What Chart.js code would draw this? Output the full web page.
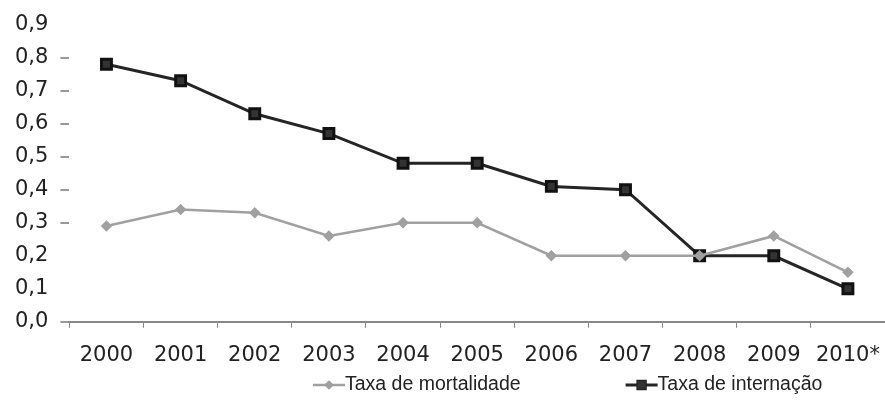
<!DOCTYPE html>
<html>
<head>
<meta charset="utf-8">
<script src="https://cdn.jsdelivr.net/npm/chart.js@4/dist/chart.umd.min.js"></script>
<style>
  html, body { margin: 0; padding: 0; background: #fff; }
  #wrap { width: 885px; height: 401px; position: relative; }
</style>
</head>
<body>
<div id="wrap"><canvas id="chart"></canvas></div>
<script>
var years = ["2000", "2001", "2002", "2003", "2004", "2005", "2006", "2007", "2008", "2009", "2010*"];
var mortalidade = [0.29, 0.34, 0.33, 0.26, 0.30, 0.30, 0.20, 0.20, 0.20, 0.26, 0.15];
var internacao = [0.78, 0.73, 0.63, 0.57, 0.48, 0.48, 0.41, 0.40, 0.20, 0.20, 0.10];
var seriesNames = ["Taxa de mortalidade", "Taxa de internação"];

// legend drawn by hand: line sample touches the text, like the original
var legendPlugin = {
  id: "lineLegend",
  afterDraw: function(chart) {
    var ctx = chart.ctx;
    var x = 313, y = 385, sample = 32, gap = 105;
    ctx.save();
    ctx.font = "19.5px 'Liberation Sans', Arial, sans-serif";
    ctx.textBaseline = "middle";
    chart.data.datasets.forEach(function(ds) {
      ctx.strokeStyle = ds.borderColor;
      ctx.lineWidth = ds.borderWidth;
      ctx.beginPath();
      ctx.moveTo(x, y);
      ctx.lineTo(x + sample, y);
      ctx.stroke();
      Chart.helpers.drawPoint(ctx, {
        pointStyle: ds.pointStyle,
        radius: ds.pointRadius * 0.75,
        borderWidth: 1
      }, x + sample / 2, y);
      ctx.fillStyle = ds.pointBackgroundColor;
      ctx.fill();
      ctx.fillStyle = "#222";
      ctx.fillText(ds.label, x + sample, y);
      x += sample + ctx.measureText(ds.label).width + gap;
    });
    ctx.restore();
  }
};

new Chart(document.getElementById("chart"), {
  type: "line",
  data: {
    labels: years,
    datasets: [{
      label: seriesNames[0],
      data: mortalidade,
      borderColor: "#a0a0a0",
      backgroundColor: "#a0a0a0",
      pointBackgroundColor: "#a0a0a0",
      pointBorderColor: "#a0a0a0",
      borderWidth: 2.5,
      pointStyle: "rectRot",
      pointRadius: 4,
      tension: 0,
      clip: false
    }, {
      label: seriesNames[1],
      data: internacao,
      borderColor: "#252525",
      backgroundColor: "#333",
      pointBackgroundColor: "#333",
      pointBorderColor: "#111",
      borderWidth: 3,
      pointStyle: "rect",
      pointRadius: 7,
      tension: 0,
      clip: false
    }]
  },
  options: {
    responsive: true,
    maintainAspectRatio: false,
    animation: false,
    layout: { autoPadding: false, padding: { left: 3, right: 0, top: 17, bottom: 18 } },
    plugins: { legend: { display: false }, tooltip: { enabled: false } },
    scales: {
      x: {
        offset: true,
        // the last label fits inside its category, no extra room on the right
        afterFit: function(scale) { scale.paddingRight = 0; },
        grid: { offset: true, drawOnChartArea: false, drawTicks: true, tickLength: 6, color: "#888" },
        border: { display: true, color: "#888", width: 2 },
        ticks: { color: "#222", padding: 15, font: { family: "'DejaVu Sans', Verdana, sans-serif", size: 21 }, maxRotation: 0, autoSkip: false }
      },
      y: {
        min: 0,
        max: 0.9,
        grid: {
          drawOnChartArea: false,
          drawTicks: true,
          tickLength: 9,
          lineWidth: 2,
          color: function(c) {
            var v = c.tick ? c.tick.value : 0;
            return (v < 0.01 || (v > 0.29 && v < 0.81)) ? "#999" : "rgba(0,0,0,0)";
          }
        },
        border: { display: false },
        ticks: {
          stepSize: 0.1,
          padding: 12,
          color: "#222",
          font: { family: "'DejaVu Sans', Verdana, sans-serif", size: 21 },
          callback: function(v) { return v.toFixed(1).replace(".", ","); }
        }
      }
    }
  },
  plugins: [legendPlugin]
});
</script>
</body>
</html>
